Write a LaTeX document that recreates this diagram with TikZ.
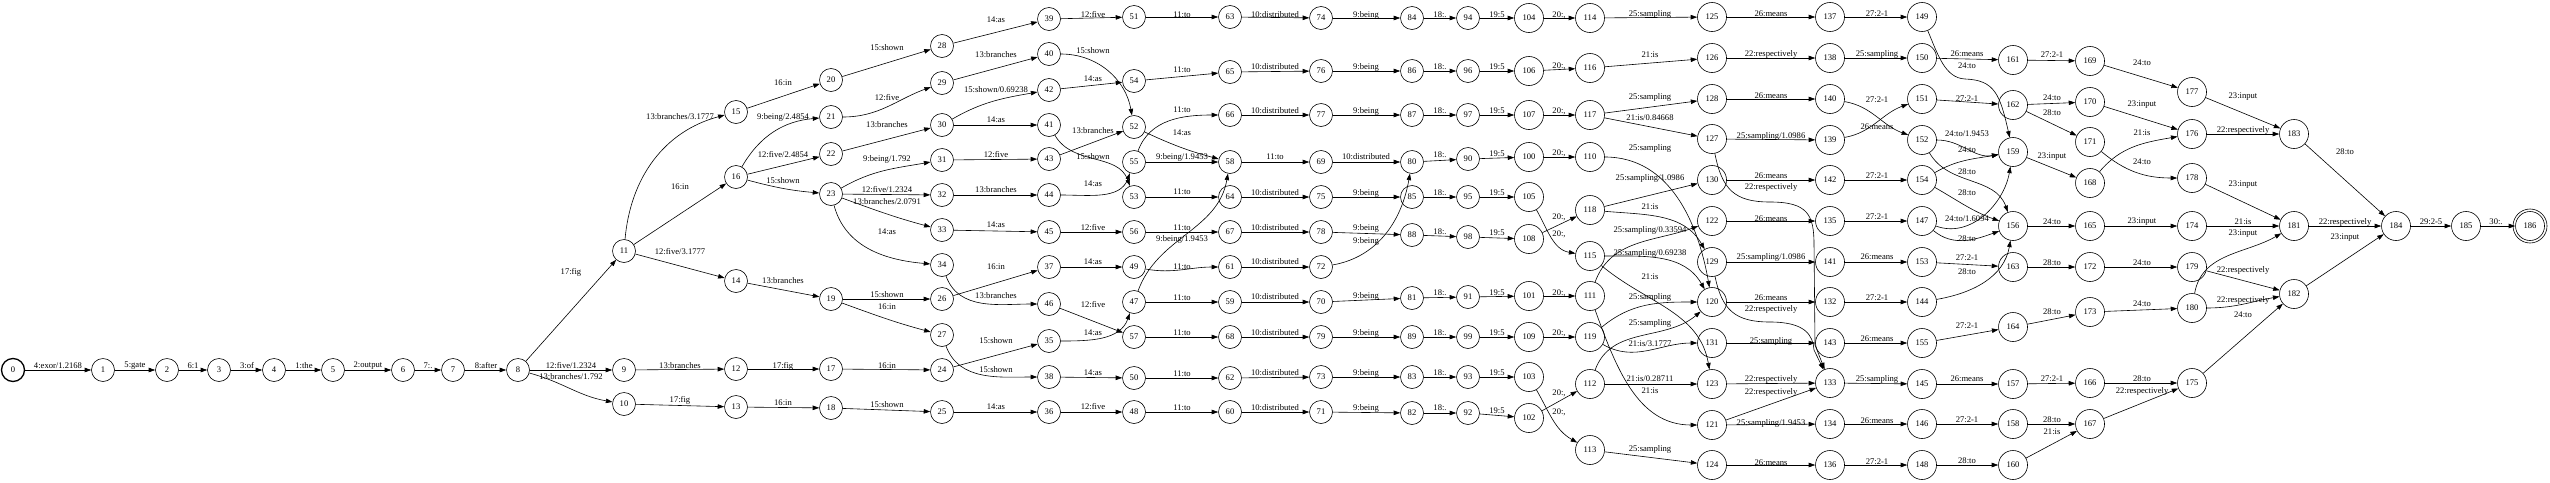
\documentclass[tikz,border=0pt]{standalone}
\usepackage{fontspec}
\setmainfont{Liberation Serif}
\usetikzlibrary{arrows.meta}
\newcommand\lmf{\fontsize{8.6}{10}\selectfont}
\tikzset{
 st/.style={circle, draw=black, line width=0.6pt, minimum size=23pt, inner sep=0pt, font=\lmf},
 stt/.style={st, minimum size=29pt},
 arr/.style={draw=black, line width=0.6pt, -{Triangle[length=6.5pt,width=4.5pt]}},
 lbl/.style={font=\lmf, inner sep=0pt},
}
\newcommand\nd[3]{\node[st] (n#1) at (#2,#3) {#1};}
\newcommand\ndd[3]{\node[stt] (n#1) at (#2,#3) {#1};}
\newcommand\ee[5][]{\draw[arr] (n#2) to[#1] (n#3); \node[lbl] at (#4) {#5};}
\begin{document}
\begin{tikzpicture}[x=1pt,y=-1pt]
\useasboundingbox (0,0) rectangle (2550,482);
\node[st, line width=1.3pt] (n0) at (13,370) {0};
\nd{1}{103}{370}\nd{2}{167}{370}\nd{3}{219}{370}\nd{4}{274}{370}\nd{5}{333}{370}
\nd{6}{403}{370}\nd{7}{453}{370}\nd{8}{518}{370}\nd{9}{624}{370}\nd{10}{624}{404}
\nd{11}{624}{251}\nd{12}{736}{369}\nd{13}{736}{407}\nd{14}{736}{281}\nd{15}{736}{112}
\nd{16}{736}{177}\nd{17}{831}{369}\nd{18}{831}{408}\nd{19}{831}{299}\nd{20}{831}{80}
\nd{21}{831}{117}\nd{22}{831}{154}\nd{23}{831}{194}\nd{24}{942}{370}\nd{25}{942}{412}
\nd{26}{942}{299}\nd{27}{942}{335}\nd{28}{942}{46}\nd{29}{942}{83}\nd{30}{942}{125}
\nd{31}{942}{160}\nd{32}{942}{195}\nd{33}{942}{230}\nd{34}{942}{265}\nd{35}{1049}{341}
\nd{36}{1049}{412}\nd{37}{1049}{267}\nd{38}{1049}{377}\nd{39}{1049}{19}\nd{40}{1049}{54}
\nd{41}{1049}{125}\nd{42}{1049}{90}\nd{43}{1049}{159}\nd{44}{1049}{195}\nd{45}{1049}{232}
\nd{46}{1049}{304}\nd{47}{1134}{302}\nd{48}{1134}{412}\nd{49}{1134}{267}\nd{50}{1134}{378}
\nd{51}{1134}{17}\nd{52}{1134}{127}\nd{53}{1134}{197}\nd{54}{1134}{81}\nd{55}{1134}{162}
\nd{56}{1134}{232}\nd{57}{1134}{337}\nd{58}{1230}{162}\nd{59}{1230}{302}\nd{60}{1230}{412}
\nd{61}{1230}{267}\nd{62}{1230}{378}\nd{63}{1230}{17}\nd{64}{1230}{197}\nd{65}{1230}{72}
\nd{66}{1230}{115}\nd{67}{1230}{232}\nd{68}{1230}{337}\nd{69}{1321}{162}\nd{70}{1321}{302}
\nd{71}{1321}{412}\nd{72}{1321}{267}\nd{73}{1321}{377}\nd{74}{1321}{18}\nd{75}{1321}{197}
\nd{76}{1321}{71}\nd{77}{1321}{115}\nd{78}{1321}{232}\nd{79}{1321}{337}\nd{80}{1412}{162}
\nd{81}{1412}{298}\nd{82}{1412}{413}\nd{83}{1412}{377}\nd{84}{1412}{18}\nd{85}{1412}{197}
\nd{86}{1412}{71}\nd{87}{1412}{115}\nd{88}{1412}{235}\nd{89}{1412}{337}\nd{90}{1468}{159}
\nd{91}{1468}{297}\nd{92}{1468}{413}\nd{93}{1468}{377}\nd{94}{1468}{18}\nd{95}{1468}{197}
\nd{96}{1468}{71}\nd{97}{1468}{115}\nd{98}{1468}{237}\nd{99}{1468}{337}
\ndd{100}{1529}{157}\ndd{101}{1529}{296}\ndd{102}{1529}{418}\ndd{103}{1529}{377}\ndd{104}{1529}{18}
\ndd{105}{1529}{197}\ndd{106}{1529}{71}\ndd{107}{1529}{115}\ndd{108}{1529}{239}\ndd{109}{1529}{337}
\ndd{110}{1590}{157}\ndd{111}{1590}{296}\ndd{112}{1590}{384}\ndd{113}{1590}{450}\ndd{114}{1590}{18}
\ndd{115}{1590}{256}\ndd{116}{1590}{68}\ndd{117}{1590}{115}\ndd{118}{1590}{210}\ndd{119}{1590}{337}
\ndd{120}{1712}{302}\ndd{121}{1712}{425}\ndd{122}{1712}{221}\ndd{123}{1712}{384}\ndd{124}{1712}{465}
\ndd{125}{1712}{17}\ndd{126}{1712}{58}\ndd{127}{1712}{139}\ndd{128}{1712}{99}\ndd{129}{1712}{262}
\ndd{130}{1712}{180}\ndd{131}{1712}{343}
\ndd{132}{1830}{302}\ndd{133}{1830}{383}\ndd{134}{1830}{424}\ndd{135}{1830}{221}\ndd{136}{1830}{465}
\ndd{137}{1830}{17}\ndd{138}{1830}{58}\ndd{139}{1830}{140}\ndd{140}{1830}{99}\ndd{141}{1830}{262}
\ndd{142}{1830}{180}\ndd{143}{1830}{343}
\ndd{144}{1922}{302}\ndd{145}{1922}{384}\ndd{146}{1922}{424}\ndd{147}{1922}{221}\ndd{148}{1922}{465}
\ndd{149}{1922}{17}\ndd{150}{1922}{58}\ndd{151}{1922}{99}\ndd{152}{1922}{140}\ndd{153}{1922}{262}
\ndd{154}{1922}{180}\ndd{155}{1922}{343}
\ndd{156}{2013}{226}\ndd{157}{2013}{384}\ndd{158}{2013}{424}\ndd{159}{2013}{152}\ndd{160}{2013}{465}
\ndd{161}{2013}{60}\ndd{162}{2013}{105}\ndd{163}{2013}{267}\ndd{164}{2013}{327}
\ndd{165}{2090}{226}\ndd{166}{2090}{383}\ndd{167}{2090}{424}\ndd{168}{2090}{183}\ndd{169}{2090}{61}
\ndd{170}{2090}{102}\ndd{171}{2090}{142}\ndd{172}{2090}{267}\ndd{173}{2090}{312}
\ndd{174}{2192}{226}\ndd{175}{2192}{383}\ndd{176}{2192}{134}\ndd{177}{2192}{92}\ndd{178}{2192}{178}
\ndd{179}{2192}{267}\ndd{180}{2192}{308}
\ndd{181}{2294}{226}\ndd{182}{2294}{294}\ndd{183}{2294}{134}
\ndd{184}{2396}{226}\ndd{185}{2466}{226}\ndd{186}{2530}{226}
\draw[line width=0.6pt] (n186) circle (17pt);
% chain
\ee{0}{1}{58,366}{4:exor/1.2168}
\ee{1}{2}{135,366}{5:gate}
\ee{2}{3}{193,366}{6:1}
\ee{3}{4}{247,366}{3:of}
\ee{4}{5}{304,366}{1:the}
\ee{5}{6}{368,366}{2:output}
\ee{6}{7}{428,366}{7:.}
\ee{7}{8}{486,366}{8:after}
\ee{8}{11}{571,272}{17:fig}
\ee{8}{9}{571,366}{12:five/1.2324}
\ee[out=-15,in=170]{8}{10}{571,377}{13:branches/1.792}
\ee{9}{12}{680,366}{13:branches}
\ee{10}{13}{680,400}{17:fig}
\ee[out=85,in=195]{11}{15}{680,117}{13:branches/3.1777}
\ee{11}{16}{680,187}{16:in}
\ee{11}{14}{680,252}{12:five/3.1777}
\ee{15}{20}{783,83}{16:in}
\ee[out=60,in=185]{16}{21}{783,117}{9:being/2.4854}
\ee{16}{22}{783,155}{12:five/2.4854}
\ee[out=-15,in=175]{16}{23}{783,181}{15:shown}
\ee{14}{19}{783,281}{13:branches}
\ee{12}{17}{783,366}{17:fig}
\ee{13}{18}{783,403}{16:in}
\ee{20}{28}{887,48}{15:shown}
\ee[out=0,in=200]{21}{29}{887,98}{12:five}
\ee{22}{30}{887,125}{13:branches}
\ee[out=30,in=190]{23}{31}{887,159}{9:being/1.792}
\ee{23}{32}{887,190}{12:five/1.2324}
\ee[out=-20,in=165]{23}{33}{887,202}{13:branches/2.0791}
\ee[out=-75,in=175]{23}{34}{887,232}{14:as}
\ee{19}{26}{887,295}{15:shown}
\ee[out=-20,in=165]{19}{27}{887,307}{16:in}
\ee{17}{24}{887,366}{16:in}
\ee{18}{25}{887,405}{15:shown}
\ee{28}{39}{996,20}{14:as}
\ee{29}{40}{996,55}{13:branches}
\ee[out=30,in=190]{30}{42}{996,90}{15:shown/0.69238}
\ee{30}{41}{996,120}{14:as}
\ee{31}{43}{996,155}{12:five}
\ee{32}{44}{996,190}{13:branches}
\ee{33}{45}{996,225}{14:as}
\ee{26}{37}{996,267}{16:in}
\ee[out=-70,in=180]{34}{46}{996,296}{13:branches}
\ee{24}{35}{996,341}{15:shown}
\ee[out=-70,in=180]{27}{38}{996,370}{15:shown}
\ee{25}{36}{996,407}{14:as}
\ee{39}{51}{1093,15}{12:five}
\ee[out=0,in=100]{40}{52}{1093,51}{15:shown}
\ee{42}{54}{1093,79}{14:as}
\ee{43}{52}{1093,131}{13:branches}
\ee[out=-60,in=110]{41}{53}{1093,157}{15:shown}
\ee[out=0,in=-110]{44}{55}{1093,184}{14:as}
\ee{45}{56}{1093,228}{12:five}
\ee{37}{49}{1093,262}{14:as}
\ee{46}{57}{1093,305}{12:five}
\ee[out=0,in=-110]{35}{47}{1093,333}{14:as}
\ee{38}{50}{1093,373}{14:as}
\ee{36}{48}{1093,407}{12:five}
\ee{51}{63}{1182,15}{11:to}
\ee{54}{65}{1182,70}{11:to}
\ee[out=70,in=180]{55}{66}{1182,110}{11:to}
\ee[out=-25,in=165]{52}{58}{1182,133}{14:as}
\ee{55}{58}{1182,157}{9:being/1.9453}
\ee{53}{64}{1182,192}{11:to}
\ee{56}{67}{1182,228}{11:to}
\ee[out=70,in=-100]{47}{58}{1182,239}{9:being/1.9453}
\ee[out=-10,in=180]{49}{61}{1182,267}{11:to}
\ee{47}{59}{1182,298}{11:to}
\ee{57}{68}{1182,333}{11:to}
\ee{50}{62}{1182,374}{11:to}
\ee{48}{60}{1182,408}{11:to}
\ee{63}{74}{1275,15}{10:distributed}
\ee{65}{76}{1275,67}{10:distributed}
\ee{66}{77}{1275,111}{10:distributed}
\ee{58}{69}{1275,157}{11:to}
\ee{64}{75}{1275,193}{10:distributed}
\ee{67}{78}{1275,228}{10:distributed}
\ee{61}{72}{1275,262}{10:distributed}
\ee{59}{70}{1275,297}{10:distributed}
\ee{68}{79}{1275,333}{10:distributed}
\ee{62}{73}{1275,373}{10:distributed}
\ee{60}{71}{1275,408}{10:distributed}
\ee{74}{84}{1366,15}{9:being}
\ee{76}{86}{1366,67}{9:being}
\ee{77}{87}{1366,111}{9:being}
\ee{69}{80}{1366,157}{10:distributed}
\ee{75}{85}{1366,193}{9:being}
\ee{78}{88}{1366,228}{9:being}
\ee[out=10,in=-100]{72}{80}{1366,241}{9:being}
\ee{70}{81}{1366,296}{9:being}
\ee{79}{89}{1366,333}{9:being}
\ee{73}{83}{1366,373}{9:being}
\ee{71}{82}{1366,408}{9:being}
\ee{84}{94}{1440,15}{18:.}
\ee{86}{96}{1440,67}{18:.}
\ee{87}{97}{1440,111}{18:.}
\ee{80}{90}{1440,155}{18:.}
\ee{85}{95}{1440,193}{18:.}
\ee{88}{98}{1440,232}{18:.}
\ee{81}{91}{1440,293}{18:.}
\ee{89}{99}{1440,333}{18:.}
\ee{83}{93}{1440,373}{18:.}
\ee{82}{92}{1440,408}{18:.}
\ee{94}{104}{1497,15}{19:5}
\ee{96}{106}{1497,67}{19:5}
\ee{97}{107}{1497,111}{19:5}
\ee{90}{100}{1497,154}{19:5}
\ee{95}{105}{1497,193}{19:5}
\ee{98}{108}{1497,233}{19:5}
\ee{91}{101}{1497,293}{19:5}
\ee{99}{109}{1497,333}{19:5}
\ee{93}{103}{1497,373}{19:5}
\ee{92}{102}{1497,411}{19:5}
\ee{104}{114}{1559,15}{20:,}
\ee{106}{116}{1559,66}{20:,}
\ee{107}{117}{1559,111}{20:,}
\ee{100}{110}{1559,153}{20:,}
\ee{108}{118}{1559,217}{20:,}
\ee[out=-60,in=170]{105}{115}{1559,234}{20:,}
\ee{101}{111}{1559,293}{20:,}
\ee{109}{119}{1559,333}{20:,}
\ee{102}{112}{1559,393}{20:,}
\ee[out=-60,in=150]{103}{113}{1559,412}{20:,}
% 11x -> 12x
\ee{114}{125}{1650,14}{25:sampling}
\ee{116}{126}{1650,55}{21:is}
\ee{117}{128}{1650,97}{25:sampling}
\ee{117}{127}{1650,118}{21:is/0.84668}
\ee[out=0,in=100]{110}{120}{1650,148}{25:sampling}
\ee{118}{130}{1650,178}{25:sampling/1.0986}
\ee[out=-5,in=120]{118}{129}{1650,207}{21:is}
\ee[out=70,in=200]{111}{122}{1650,230}{25:sampling/0.33594}
\ee[out=0,in=120]{115}{120}{1650,253}{25:sampling/0.69238}
\ee[out=-40,in=100]{115}{123}{1650,277}{21:is}
\ee[out=40,in=180]{119}{120}{1650,297}{25:sampling}
\ee[out=70,in=-140]{112}{120}{1650,323}{25:sampling}
\ee[out=-30,in=180]{119}{131}{1650,344}{21:is/3.1777}
\ee{112}{123}{1650,379}{21:is/0.28711}
\ee[out=-70,in=180]{111}{121}{1650,391}{21:is}
\ee{113}{124}{1650,449}{25:sampling}
% 12x -> 13x
\ee{125}{137}{1771,14}{26:means}
\ee{126}{138}{1771,54}{22:respectively}
\ee{128}{140}{1771,96}{26:means}
\ee{127}{139}{1771,136}{25:sampling/1.0986}
\ee{130}{142}{1771,176}{26:means}
\draw[arr] (n127) .. controls (1722,190) and (1735,202) .. (1770,202) .. controls (1808,202) and (1814,215) .. (1814,245) -- (1815,345) -- (n133);
\node[lbl] at (1771,187) {22:respectively};
\ee{122}{135}{1771,219}{26:means}
\ee{129}{141}{1771,257}{25:sampling/1.0986}
\ee{120}{132}{1771,298}{26:means}
\draw[arr] (n129) .. controls (1722,310) and (1735,322) .. (1770,322) .. controls (1805,322) and (1813,335) .. (1814,350) -- (n133);
\node[lbl] at (1771,309) {22:respectively};
\ee{131}{143}{1771,341}{25:sampling}
\ee{123}{133}{1771,379}{22:respectively}
\ee{121}{133}{1771,392}{22:respectively}
\ee{121}{134}{1771,423}{25:sampling/1.9453}
\ee{124}{136}{1771,463}{26:means}
% 13x -> 14x
\ee{137}{149}{1877,14}{27:2-1}
\ee{138}{150}{1877,54}{25:sampling}
\ee[out=-10,in=160]{140}{152}{1877,100}{27:2-1}
\ee[out=10,in=-160]{139}{151}{1877,127}{26:means}
\ee{142}{154}{1877,176}{27:2-1}
\ee{135}{147}{1877,217}{27:2-1}
\ee{141}{153}{1877,257}{26:means}
\ee{132}{144}{1877,298}{27:2-1}
\ee{143}{155}{1877,339}{26:means}
\ee{133}{145}{1877,379}{25:sampling}
\ee{134}{146}{1877,421}{26:means}
\ee{136}{148}{1877,462}{27:2-1}
% 14x -> 15x/16x
\draw[arr] (n149) .. controls (1938,55) and (1945,78) .. (1965,79) .. controls (1995,80) and (2000,95) .. (n159);
\node[lbl] at (1967,66) {24:to};
\ee{150}{161}{1967,54}{26:means}
\ee{151}{162}{1967,99}{27:2-1}
\ee[out=0,in=190]{152}{159}{1967,134}{24:to/1.9453}
\ee[out=30,in=190]{154}{159}{1967,150}{24:to}
\ee[out=-60,in=110]{152}{156}{1967,172}{28:to}
\ee[out=-30,in=160]{154}{156}{1967,193}{28:to}
\ee[out=-20,in=-100]{147}{159}{1967,219}{24:to/1.6094}
\ee[out=-40,in=200]{147}{156}{1967,239}{28:to}
\ee{153}{163}{1967,258}{27:2-1}
\ee[out=10,in=-100]{144}{156}{1967,272}{28:to}
\ee{155}{164}{1967,326}{27:2-1}
\ee{145}{157}{1967,379}{26:means}
\ee{146}{158}{1967,420}{27:2-1}
\ee{148}{160}{1967,461}{28:to}
% 16x -> 17x
\ee{161}{169}{2052,55}{27:2-1}
\ee{162}{170}{2052,98}{24:to}
\ee{162}{171}{2052,113}{28:to}
\ee{159}{168}{2052,157}{23:input}
\ee{156}{165}{2052,222}{24:to}
\ee{163}{172}{2052,263}{28:to}
\ee{164}{173}{2052,312}{28:to}
\ee{157}{166}{2052,379}{27:2-1}
\ee{158}{167}{2052,420}{28:to}
\ee{160}{167}{2052,432}{21:is}
% 17x -> 18x
\ee{169}{177}{2142,63}{24:to}
\ee{170}{176}{2142,105}{23:input}
\ee[out=50,in=190]{168}{176}{2142,133}{21:is}
\ee[out=-40,in=180]{171}{178}{2142,162}{24:to}
\ee{165}{174}{2142,222}{23:input}
\ee{172}{179}{2142,263}{24:to}
\ee{173}{180}{2142,304}{24:to}
\ee{166}{175}{2142,379}{28:to}
\ee{167}{175}{2142,391}{22:respectively}
\ee{177}{183}{2243,97}{23:input}
\ee{176}{183}{2243,130}{22:respectively}
\ee{178}{181}{2243,185}{23:input}
\ee{174}{181}{2243,222}{21:is}
\ee[out=80,in=-150]{180}{181}{2243,234}{23:input}
\ee{179}{182}{2243,270}{22:respectively}
\ee[out=0,in=190]{180}{182}{2243,300}{22:respectively}
\ee{175}{182}{2243,315}{24:to}
\ee{183}{184}{2345,152}{28:to}
\ee{181}{184}{2345,222}{22:respectively}
\ee{182}{184}{2345,238}{23:input}
\ee{184}{185}{2431,222}{29:2-5}
\ee{185}{186}{2496,222}{30:.}
\end{tikzpicture}
\end{document}
